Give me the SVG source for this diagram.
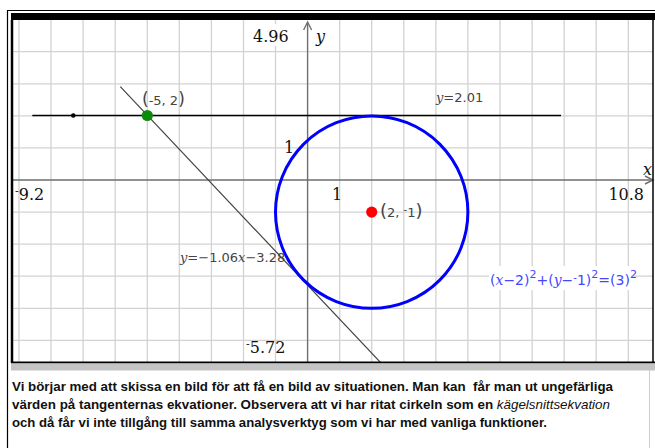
<svg xmlns="http://www.w3.org/2000/svg" width="655" height="448" viewBox="0 0 655 448">
<style>
.grid line{stroke:#d2d2d2;stroke-width:1.3}
.ax{stroke:#6e6e6e;stroke-width:1.4;fill:none}
.num{font-family:"DejaVu Serif","Liberation Serif",serif;font-size:16px;fill:#111}
.lbl{font-family:"DejaVu Sans","Liberation Sans",sans-serif;font-size:13px;fill:#444}
.it{font-family:"DejaVu Serif","Liberation Serif",serif;font-style:italic}
.body{font-family:"Liberation Sans","Arial",sans-serif;font-weight:bold;font-size:13px;fill:#111}
.eq{font-family:"DejaVu Sans","Liberation Sans",sans-serif;font-size:14px;fill:#4646ff}
</style>
<defs>
<clipPath id="plot"><rect x="13" y="20" width="640" height="342"/></clipPath>
</defs>
<rect width="655" height="448" fill="#fff"/>
<path d="M7.5,448V10.5H655" fill="none" stroke="#000" stroke-width="1.2"/>
<rect x="11" y="13" width="644" height="7" fill="#000"/>
<g id="grid" class="grid" clip-path="url(#plot)">
<line x1="19" y1="20" x2="19" y2="362"/><line x1="51" y1="20" x2="51" y2="362"/>
<line x1="83.1" y1="20" x2="83.1" y2="362"/><line x1="115.2" y1="20" x2="115.2" y2="362"/>
<line x1="147.3" y1="20" x2="147.3" y2="362"/><line x1="179.3" y1="20" x2="179.3" y2="362"/>
<line x1="211.4" y1="20" x2="211.4" y2="362"/><line x1="243.5" y1="20" x2="243.5" y2="362"/>
<line x1="275.5" y1="20" x2="275.5" y2="362"/><line x1="339.7" y1="20" x2="339.7" y2="362"/>
<line x1="371.7" y1="20" x2="371.7" y2="362"/><line x1="403.8" y1="20" x2="403.8" y2="362"/>
<line x1="435.9" y1="20" x2="435.9" y2="362"/><line x1="467.9" y1="20" x2="467.9" y2="362"/>
<line x1="500" y1="20" x2="500" y2="362"/><line x1="532.1" y1="20" x2="532.1" y2="362"/>
<line x1="564.2" y1="20" x2="564.2" y2="362"/><line x1="596.2" y1="20" x2="596.2" y2="362"/>
<line x1="628.3" y1="20" x2="628.3" y2="362"/>
<line x1="13" y1="51.7" x2="653" y2="51.7"/><line x1="13" y1="83.8" x2="653" y2="83.8"/>
<line x1="13" y1="115.9" x2="653" y2="115.9"/><line x1="13" y1="147.9" x2="653" y2="147.9"/>
<line x1="13" y1="212.1" x2="653" y2="212.1"/><line x1="13" y1="244.1" x2="653" y2="244.1"/>
<line x1="13" y1="276.2" x2="653" y2="276.2"/><line x1="13" y1="308.3" x2="653" y2="308.3"/>
<line x1="13" y1="340.4" x2="653" y2="340.4"/>
</g>
<g id="axis-labels">
<rect x="250" y="24" width="42" height="22" fill="#fff"/>
<text class="num" x="253" y="42">4.96</text>
<text class="num it" x="316" y="42">y</text>
<text class="num" x="284" y="153">1</text>
<text class="num" x="332" y="200">1</text>
<text class="num" x="15" y="200"><tspan font-size="11" dy="-5">-</tspan><tspan dy="5">9.2</tspan></text>
<text class="num" x="644" y="200" text-anchor="end">10.8</text>
<text class="num it" x="643" y="175">x</text>
<text class="num" x="246" y="353"><tspan font-size="11" dy="-5">-</tspan><tspan dy="5">5.72</tspan></text>
</g>
<g id="axes">
<line class="ax" x1="13" y1="180" x2="652" y2="180"/>
<path d="M645,176 L653,180 L645,184" class="ax"/>
<line class="ax" x1="307.6" y1="362" x2="307.6" y2="23"/>
<path d="M303.6,30 L307.6,22 L311.6,30" class="ax" stroke="#111"/>
</g>
<g id="connectors" clip-path="url(#plot)">
<line id="tangent" x1="120.3" y1="86.7" x2="381.4" y2="363.4" stroke="#444" stroke-width="1.2"/>
<line id="hline" x1="32.3" y1="115.5" x2="561" y2="115.5" stroke="#000" stroke-width="1.3"/>
</g>
<g id="circle">
<circle cx="371.7" cy="212.1" r="96.2" fill="none" stroke="#0000ff" stroke-width="3"/>
</g>
<g id="point-left">
<circle cx="73.3" cy="115.5" r="2.3" fill="#000"/>
</g>
<g id="point-green">
<circle cx="147.3" cy="115.5" r="5.6" fill="#0b8a0b"/>
<text class="lbl" x="142" y="105"><tspan font-size="17">(</tspan>-5, 2<tspan font-size="17">)</tspan></text>
</g>
<g id="point-center">
<circle cx="371.7" cy="212.1" r="5.6" fill="#ff0000"/>
<text class="lbl" x="380" y="217" font-size="14"><tspan font-size="18">(</tspan>2, <tspan font-size="10" dy="-4">-</tspan><tspan dy="4">1</tspan><tspan font-size="18">)</tspan></text>
</g>
<g id="label-hline">
<text class="lbl" x="436" y="102" font-size="12.5"><tspan class="it">y</tspan>=2.01</text>
</g>
<g id="label-tangent">
<text class="lbl" x="180" y="262" font-size="11.3"><tspan class="it">y</tspan>=−1.06<tspan class="it">x</tspan>−3.28</text>
</g>
<g id="label-circle">
<rect x="489" y="266" width="142" height="24" fill="#fff"/>
<text class="eq" x="490" y="285">(<tspan class="it">x</tspan>−2)<tspan font-size="11" dy="-7">2</tspan><tspan dy="7">+(</tspan><tspan class="it">y</tspan>−<tspan font-size="10" dy="-4">-</tspan><tspan dy="4">1)</tspan><tspan font-size="11" dy="-7">2</tspan><tspan dy="7">=(3)</tspan><tspan font-size="11" dy="-7">2</tspan></text>
</g>
<g id="frame">
<line x1="12" y1="20" x2="12" y2="363" stroke="#000" stroke-width="2.5"/>
<line x1="653" y1="20" x2="653" y2="363" stroke="#000" stroke-width="1.5"/>
<line x1="11" y1="362.5" x2="655" y2="362.5" stroke="#000" stroke-width="2"/>
<rect x="11" y="363.5" width="644" height="7" fill="#c4c4c4"/>
<line x1="649.5" y1="370" x2="649.5" y2="448" stroke="#cfcfcf" stroke-width="1"/>
</g>
<g id="description">
<text class="body" x="12" y="391" textLength="601" lengthAdjust="spacingAndGlyphs" xml:space="preserve">Vi börjar med att skissa en bild för att få en bild av situationen. Man kan  får man ut ungefärliga</text>
<text class="body" x="12" y="409" textLength="598" lengthAdjust="spacingAndGlyphs">värden på tangenternas ekvationer. Observera att vi har ritat cirkeln som en <tspan font-style="italic" font-weight="normal">kägelsnittsekvation</tspan></text>
<text class="body" x="12" y="427" textLength="535" lengthAdjust="spacingAndGlyphs">och då får vi inte tillgång till samma analysverktyg som vi har med vanliga funktioner.</text>
</g>
</svg>
